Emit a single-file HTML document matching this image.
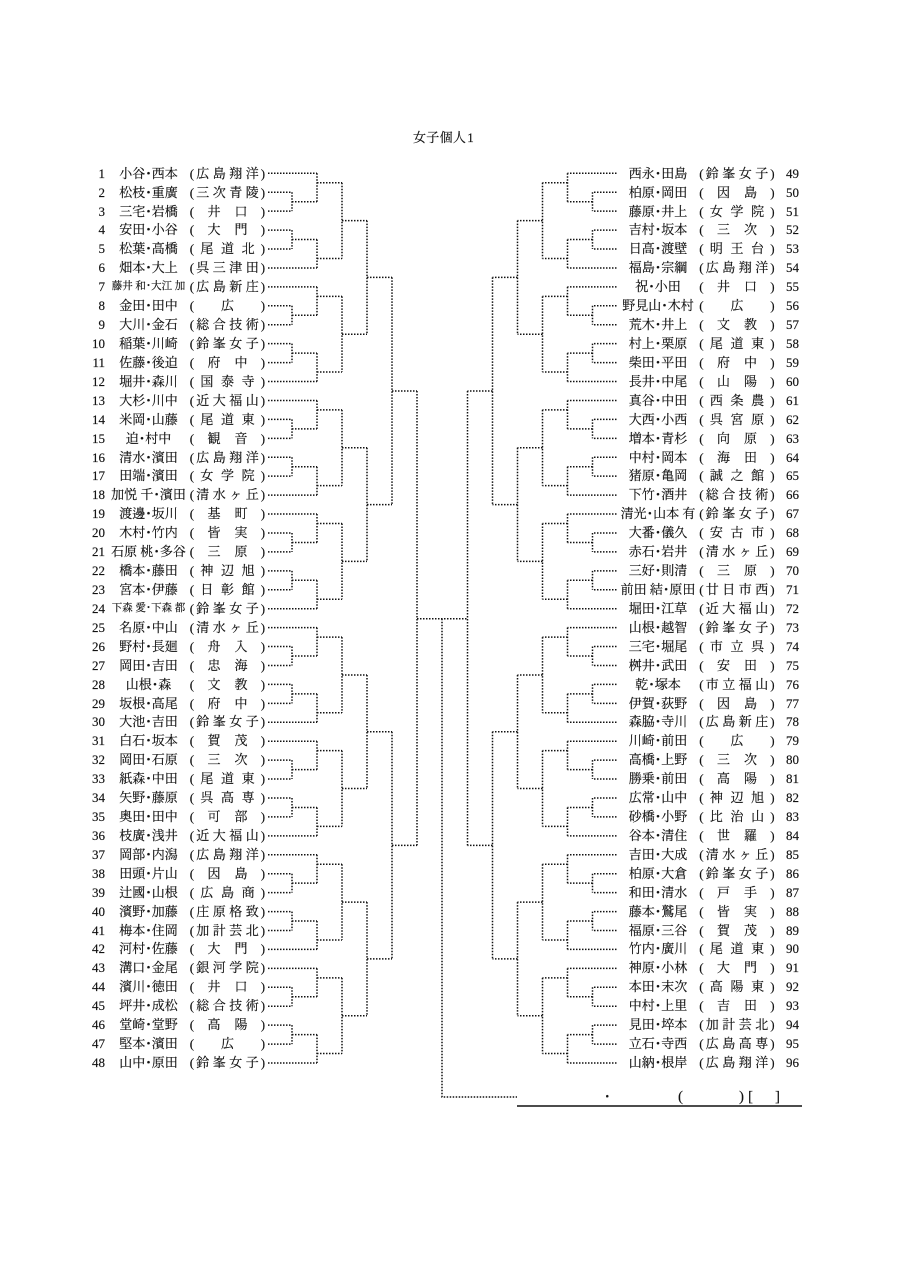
<!DOCTYPE html>
<html lang="ja">
<head>
<meta charset="utf-8">
<title>女子個人1</title>
<style>
html,body{margin:0;padding:0;background:#fff}
body{position:relative;width:905px;height:1280px;overflow:hidden;font:13px/18.93px "Liberation Serif","Noto Serif CJK SC",serif;color:#111;-webkit-text-stroke:.15px #111}
svg{position:absolute;left:0;top:0}
.col{position:absolute;top:164.7px;width:300px}
.l{left:0}
.r{left:509.5px}
p{position:relative;margin:0;height:18.93px;white-space:nowrap}
p>*{position:absolute;top:0;font-weight:normal;font-style:normal;text-decoration:none}
b{left:80px;width:25px;text-align:right}
.r b{left:276.5px;width:14px;text-align:left}
i{left:90px;width:117px;text-align:center}
i.m{font-size:10.5px}
u{left:189.7px}
em{left:260.7px}
s{left:167.5px;width:120px;text-align:center}
s.a{letter-spacing:3.5px;text-indent:3.5px}
s.b{letter-spacing:7.6px;text-indent:7.6px}
s.c{letter-spacing:14px;text-indent:14px}
.t{position:absolute;white-space:nowrap}
path{stroke:#111}
</style>
</head>
<body>
<svg width="905" height="1280" viewBox="0 0 905 1280">
<defs>
<g id="b6" fill="none" stroke-width="1.5" stroke-dasharray="1.5 1.5">
<path d="M268 0H317M268 18.93H292M268 37.86H292M292 18.93V37.86M292 28.4H317M317 0V28.4M317 9.47H342M268 56.79H292M268 75.72H292M292 56.79V75.72M292 66.25H317M268 94.65H317M317 66.25V94.65M317 85.18H342M342 9.47V85.18M342 47.33H367"/>
</g>
<g id="b12"><use href="#b6"/><use href="#b6" y="113.58"/>
<path fill="none" stroke-width="1.5" stroke-dasharray="1.5 1.5" d="M367 47.33V160.91M367 104.12H392"/></g>
<g id="b24"><use href="#b12"/><use href="#b12" y="227.16"/>
<path fill="none" stroke-width="1.5" stroke-dasharray="1.5 1.5" d="M392 104.12V331.28M392 217.7H417"/></g>
<g id="b48"><use href="#b24"/><use href="#b24" y="454.32"/>
<path fill="none" stroke-width="1.5" stroke-dasharray="1.5 1.5" d="M417 217.7V672.02"/></g>
</defs>
<g transform="translate(0 173.3)"><use href="#b48"/></g>
<g transform="matrix(-1 0 0 1 884.5 173.3)"><use href="#b48"/></g>
<path fill="none" stroke-width="1.5" stroke-dasharray="1.5 1.5" d="M417 618.7H467.5M442 618.7V1097H517"/>
<path fill="none" stroke-width="1.6" d="M517 1106H802"/>
</svg>
<div class="t" style="left:413px;top:128.5px;letter-spacing:.3px">女子個人<span style="margin-left:1px">1</span></div>
<div class="t" style="left:604px;top:1087.5px;font-size:13px">･</div>
<div class="t" style="left:678px;top:1087.5px;font-size:15px">(</div>
<div class="t" style="left:739px;top:1087.5px;font-size:15px">)</div>
<div class="t" style="left:748px;top:1087.5px;font-size:15px">[</div>
<div class="t" style="left:775px;top:1087.5px;font-size:15px">]</div>
<div class="col l">
<p><b>1</b><i>小谷･西本</i><u>(</u><s class="a">広島翔洋</s><em>)</em></p>
<p><b>2</b><i>松枝･重廣</i><u>(</u><s class="a">三次青陵</s><em>)</em></p>
<p><b>3</b><i>三宅･岩橋</i><u>(</u><s class="c">井口</s><em>)</em></p>
<p><b>4</b><i>安田･小谷</i><u>(</u><s class="c">大門</s><em>)</em></p>
<p><b>5</b><i>松葉･高橋</i><u>(</u><s class="b">尾道北</s><em>)</em></p>
<p><b>6</b><i>畑本･大上</i><u>(</u><s class="a">呉三津田</s><em>)</em></p>
<p><b>7</b><i class="m">藤井 和･大江 加</i><u>(</u><s class="a">広島新庄</s><em>)</em></p>
<p><b>8</b><i>金田･田中</i><u>(</u><s>広</s><em>)</em></p>
<p><b>9</b><i>大川･金石</i><u>(</u><s class="a">総合技術</s><em>)</em></p>
<p><b>10</b><i>稲葉･川崎</i><u>(</u><s class="a">鈴峯女子</s><em>)</em></p>
<p><b>11</b><i>佐藤･後迫</i><u>(</u><s class="c">府中</s><em>)</em></p>
<p><b>12</b><i>堀井･森川</i><u>(</u><s class="b">国泰寺</s><em>)</em></p>
<p><b>13</b><i>大杉･川中</i><u>(</u><s class="a">近大福山</s><em>)</em></p>
<p><b>14</b><i>米岡･山藤</i><u>(</u><s class="b">尾道東</s><em>)</em></p>
<p><b>15</b><i>迫･村中</i><u>(</u><s class="c">観音</s><em>)</em></p>
<p><b>16</b><i>清水･濱田</i><u>(</u><s class="a">広島翔洋</s><em>)</em></p>
<p><b>17</b><i>田端･濱田</i><u>(</u><s class="b">女学院</s><em>)</em></p>
<p><b>18</b><i>加悦 千･濱田</i><u>(</u><s class="a">清水ヶ丘</s><em>)</em></p>
<p><b>19</b><i>渡邊･坂川</i><u>(</u><s class="c">基町</s><em>)</em></p>
<p><b>20</b><i>木村･竹内</i><u>(</u><s class="c">皆実</s><em>)</em></p>
<p><b>21</b><i>石原 桃･多谷</i><u>(</u><s class="c">三原</s><em>)</em></p>
<p><b>22</b><i>橋本･藤田</i><u>(</u><s class="b">神辺旭</s><em>)</em></p>
<p><b>23</b><i>宮本･伊藤</i><u>(</u><s class="b">日彰館</s><em>)</em></p>
<p><b>24</b><i class="m">下森 愛･下森 都</i><u>(</u><s class="a">鈴峯女子</s><em>)</em></p>
<p><b>25</b><i>名原･中山</i><u>(</u><s class="a">清水ヶ丘</s><em>)</em></p>
<p><b>26</b><i>野村･長廻</i><u>(</u><s class="c">舟入</s><em>)</em></p>
<p><b>27</b><i>岡田･吉田</i><u>(</u><s class="c">忠海</s><em>)</em></p>
<p><b>28</b><i>山根･森</i><u>(</u><s class="c">文教</s><em>)</em></p>
<p><b>29</b><i>坂根･高尾</i><u>(</u><s class="c">府中</s><em>)</em></p>
<p><b>30</b><i>大池･吉田</i><u>(</u><s class="a">鈴峯女子</s><em>)</em></p>
<p><b>31</b><i>白石･坂本</i><u>(</u><s class="c">賀茂</s><em>)</em></p>
<p><b>32</b><i>岡田･石原</i><u>(</u><s class="c">三次</s><em>)</em></p>
<p><b>33</b><i>紙森･中田</i><u>(</u><s class="b">尾道東</s><em>)</em></p>
<p><b>34</b><i>矢野･藤原</i><u>(</u><s class="b">呉高専</s><em>)</em></p>
<p><b>35</b><i>奥田･田中</i><u>(</u><s class="c">可部</s><em>)</em></p>
<p><b>36</b><i>枝廣･浅井</i><u>(</u><s class="a">近大福山</s><em>)</em></p>
<p><b>37</b><i>岡部･内潟</i><u>(</u><s class="a">広島翔洋</s><em>)</em></p>
<p><b>38</b><i>田頭･片山</i><u>(</u><s class="c">因島</s><em>)</em></p>
<p><b>39</b><i>辻國･山根</i><u>(</u><s class="b">広島商</s><em>)</em></p>
<p><b>40</b><i>濱野･加藤</i><u>(</u><s class="a">庄原格致</s><em>)</em></p>
<p><b>41</b><i>梅本･住岡</i><u>(</u><s class="a">加計芸北</s><em>)</em></p>
<p><b>42</b><i>河村･佐藤</i><u>(</u><s class="c">大門</s><em>)</em></p>
<p><b>43</b><i>溝口･金尾</i><u>(</u><s class="a">銀河学院</s><em>)</em></p>
<p><b>44</b><i>濱川･徳田</i><u>(</u><s class="c">井口</s><em>)</em></p>
<p><b>45</b><i>坪井･成松</i><u>(</u><s class="a">総合技術</s><em>)</em></p>
<p><b>46</b><i>堂崎･堂野</i><u>(</u><s class="c">高陽</s><em>)</em></p>
<p><b>47</b><i>堅本･濱田</i><u>(</u><s>広</s><em>)</em></p>
<p><b>48</b><i>山中･原田</i><u>(</u><s class="a">鈴峯女子</s><em>)</em></p>
</div>
<div class="col r">
<p><b>49</b><i>西永･田島</i><u>(</u><s class="a">鈴峯女子</s><em>)</em></p>
<p><b>50</b><i>柏原･岡田</i><u>(</u><s class="c">因島</s><em>)</em></p>
<p><b>51</b><i>藤原･井上</i><u>(</u><s class="b">女学院</s><em>)</em></p>
<p><b>52</b><i>吉村･坂本</i><u>(</u><s class="c">三次</s><em>)</em></p>
<p><b>53</b><i>日高･渡壁</i><u>(</u><s class="b">明王台</s><em>)</em></p>
<p><b>54</b><i>福島･宗綱</i><u>(</u><s class="a">広島翔洋</s><em>)</em></p>
<p><b>55</b><i>祝･小田</i><u>(</u><s class="c">井口</s><em>)</em></p>
<p><b>56</b><i>野見山･木村</i><u>(</u><s>広</s><em>)</em></p>
<p><b>57</b><i>荒木･井上</i><u>(</u><s class="c">文教</s><em>)</em></p>
<p><b>58</b><i>村上･栗原</i><u>(</u><s class="b">尾道東</s><em>)</em></p>
<p><b>59</b><i>柴田･平田</i><u>(</u><s class="c">府中</s><em>)</em></p>
<p><b>60</b><i>長井･中尾</i><u>(</u><s class="c">山陽</s><em>)</em></p>
<p><b>61</b><i>真谷･中田</i><u>(</u><s class="b">西条農</s><em>)</em></p>
<p><b>62</b><i>大西･小西</i><u>(</u><s class="b">呉宮原</s><em>)</em></p>
<p><b>63</b><i>増本･青杉</i><u>(</u><s class="c">向原</s><em>)</em></p>
<p><b>64</b><i>中村･岡本</i><u>(</u><s class="c">海田</s><em>)</em></p>
<p><b>65</b><i>猪原･亀岡</i><u>(</u><s class="b">誠之館</s><em>)</em></p>
<p><b>66</b><i>下竹･酒井</i><u>(</u><s class="a">総合技術</s><em>)</em></p>
<p><b>67</b><i>清光･山本 有</i><u>(</u><s class="a">鈴峯女子</s><em>)</em></p>
<p><b>68</b><i>大番･儀久</i><u>(</u><s class="b">安古市</s><em>)</em></p>
<p><b>69</b><i>赤石･岩井</i><u>(</u><s class="a">清水ヶ丘</s><em>)</em></p>
<p><b>70</b><i>三好･則清</i><u>(</u><s class="c">三原</s><em>)</em></p>
<p><b>71</b><i>前田 結･原田</i><u>(</u><s class="a">廿日市西</s><em>)</em></p>
<p><b>72</b><i>堀田･江草</i><u>(</u><s class="a">近大福山</s><em>)</em></p>
<p><b>73</b><i>山根･越智</i><u>(</u><s class="a">鈴峯女子</s><em>)</em></p>
<p><b>74</b><i>三宅･堀尾</i><u>(</u><s class="b">市立呉</s><em>)</em></p>
<p><b>75</b><i>桝井･武田</i><u>(</u><s class="c">安田</s><em>)</em></p>
<p><b>76</b><i>乾･塚本</i><u>(</u><s class="a">市立福山</s><em>)</em></p>
<p><b>77</b><i>伊賀･荻野</i><u>(</u><s class="c">因島</s><em>)</em></p>
<p><b>78</b><i>森脇･寺川</i><u>(</u><s class="a">広島新庄</s><em>)</em></p>
<p><b>79</b><i>川崎･前田</i><u>(</u><s>広</s><em>)</em></p>
<p><b>80</b><i>高橋･上野</i><u>(</u><s class="c">三次</s><em>)</em></p>
<p><b>81</b><i>勝乗･前田</i><u>(</u><s class="c">高陽</s><em>)</em></p>
<p><b>82</b><i>広常･山中</i><u>(</u><s class="b">神辺旭</s><em>)</em></p>
<p><b>83</b><i>砂橋･小野</i><u>(</u><s class="b">比治山</s><em>)</em></p>
<p><b>84</b><i>谷本･清住</i><u>(</u><s class="c">世羅</s><em>)</em></p>
<p><b>85</b><i>吉田･大成</i><u>(</u><s class="a">清水ヶ丘</s><em>)</em></p>
<p><b>86</b><i>柏原･大倉</i><u>(</u><s class="a">鈴峯女子</s><em>)</em></p>
<p><b>87</b><i>和田･清水</i><u>(</u><s class="c">戸手</s><em>)</em></p>
<p><b>88</b><i>藤本･鷲尾</i><u>(</u><s class="c">皆実</s><em>)</em></p>
<p><b>89</b><i>福原･三谷</i><u>(</u><s class="c">賀茂</s><em>)</em></p>
<p><b>90</b><i>竹内･廣川</i><u>(</u><s class="b">尾道東</s><em>)</em></p>
<p><b>91</b><i>神原･小林</i><u>(</u><s class="c">大門</s><em>)</em></p>
<p><b>92</b><i>本田･末次</i><u>(</u><s class="b">高陽東</s><em>)</em></p>
<p><b>93</b><i>中村･上里</i><u>(</u><s class="c">吉田</s><em>)</em></p>
<p><b>94</b><i>見田･埣本</i><u>(</u><s class="a">加計芸北</s><em>)</em></p>
<p><b>95</b><i>立石･寺西</i><u>(</u><s class="a">広島高専</s><em>)</em></p>
<p><b>96</b><i>山納･根岸</i><u>(</u><s class="a">広島翔洋</s><em>)</em></p>
</div>
</body>
</html>
